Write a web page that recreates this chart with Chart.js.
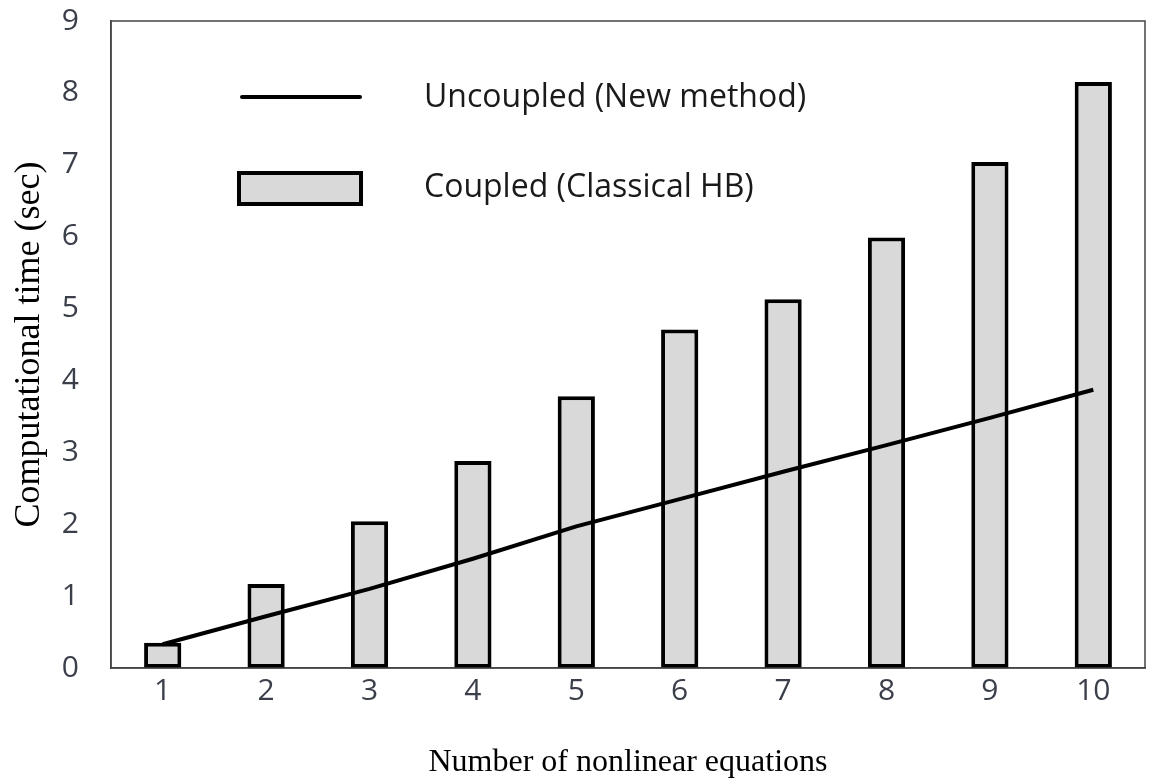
<!DOCTYPE html>
<html>
<head>
<meta charset="utf-8">
<script src="https://cdn.jsdelivr.net/npm/chart.js@4"></script>
<style>
  html, body { margin: 0; padding: 0; background: #fff; }
  #wrap { width: 1149px; height: 782px; }
</style>
</head>
<body>
<div id="wrap"><canvas id="chart" width="1149" height="782"></canvas></div>
<script>
// data
const equations = ["1", "2", "3", "4", "5", "6", "7", "8", "9", "10"];
const coupledTime = [0.35, 1.17, 2.04, 2.88, 3.78, 4.71, 5.13, 5.99, 7.04, 8.15];
const uncoupledTime = [0.33, 0.72, 1.1, 1.52, 1.97, 2.35, 2.73, 3.1, 3.48, 3.87];
const yTicks = [0, 1, 2, 3, 4, 5, 6, 7, 8, 9];

const tickFont = { family: "'Open Sans', sans-serif", size: 30 };
const tickColor = "#3a3f4a";

// legend drawn inside the plot like the original
const insideLegend = {
    id: "insideLegend",
    afterDraw(chart) {
        const ctx = chart.ctx;
        const area = chart.chartArea;
        ctx.save();
        // frame around the plot
        ctx.strokeStyle = "#444";
        ctx.lineWidth = 1.5;
        ctx.strokeRect(area.left, area.top, area.right - area.left, area.bottom - area.top);

        // line item
        ctx.strokeStyle = "#000";
        ctx.lineWidth = 4;
        ctx.lineCap = "round";
        ctx.beginPath();
        ctx.moveTo(242, 97);
        ctx.lineTo(360, 97);
        ctx.stroke();

        // bar item
        ctx.fillStyle = "#d9d9d9";
        ctx.fillRect(239, 173, 122, 31);
        ctx.lineWidth = 4;
        ctx.lineCap = "butt";
        ctx.strokeRect(239, 173, 122, 31);

        ctx.fillStyle = "#1a1a1a";
        ctx.font = "32px 'Open Sans', sans-serif";
        ctx.textBaseline = "middle";
        ctx.fillText("Uncoupled (New method)", 424, 98);
        ctx.fillText("Coupled (Classical HB)", 424, 188);
        ctx.restore();
    }
};

new Chart(document.getElementById("chart"), {
    data: {
        labels: equations,
        datasets: [
            {
                type: "line",
                label: "Uncoupled (New method)",
                data: uncoupledTime,
                borderColor: "#000",
                borderWidth: 4,
                pointRadius: 0,
                tension: 0,
                order: 0
            },
            {
                type: "bar",
                label: "Coupled (Classical HB)",
                data: coupledTime,
                backgroundColor: "#d9d9d9",
                borderColor: "#000",
                borderWidth: 4,
                borderSkipped: false,
                barPercentage: 0.36,
                categoryPercentage: 1,
                order: 1
            }
        ]
    },
    options: {
        responsive: false,
        animation: false,
        layout: { padding: { top: 21, right: 4, left: 0, bottom: 0 } },
        plugins: {
            legend: { display: false },
            tooltip: { enabled: false }
        },
        scales: {
            x: {
                grid: { display: false, drawTicks: false },
                border: { color: "#444", width: 1.5 },
                ticks: { font: tickFont, color: tickColor, padding: 5 },
                title: {
                    display: true,
                    text: "Number of nonlinear equations",
                    font: { family: "'Liberation Serif', serif", size: 32 },
                    color: "#000",
                    padding: { top: 6, bottom: 0 }
                },
                afterFit(scale) {
                    scale.height = 114;
                    scale.paddingLeft = 0;
                    scale.paddingRight = 0;
                }
            },
            y: {
                min: 0,
                max: 9,
                afterBuildTicks(scale) { scale.ticks = yTicks.map(v => ({ value: v })); },
                grid: { display: false, drawTicks: false },
                border: { color: "#444", width: 1.5 },
                ticks: { font: tickFont, color: tickColor, padding: 32 },
                title: {
                    display: true,
                    text: "Computational time (sec)",
                    font: { family: "'Liberation Serif', serif", size: 36 },
                    color: "#000",
                    padding: { top: 8, bottom: 0 }
                },
                afterFit(scale) {
                    scale.width = 111;
                    scale.paddingTop = 0;
                    scale.paddingBottom = 0;
                }
            }
        }
    },
    plugins: [insideLegend]
});
</script>
</body>
</html>
